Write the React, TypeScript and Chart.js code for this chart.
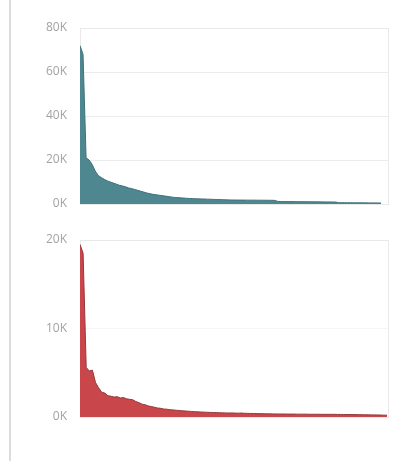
import React, { useEffect, useRef } from "react";
import { Chart, registerables } from "chart.js";

Chart.register(...registerables);

// Top series (thousands), sorted descending long-tail
const topValuesK: number[] = [
  72, 68, 21, 20, 18, 15, 13, 12, 11.2, 10.5,
  10, 9.5, 9, 8.5, 8.2, 7.8, 7.3, 7, 6.6, 6.2,
  5.8, 5.4, 5, 4.7, 4.4, 4.2, 4, 3.8, 3.6, 3.4,
  3.2, 3.0, 2.9, 2.8, 2.7, 2.6, 2.5, 2.45, 2.4, 2.35,
  2.3, 2.25, 2.2, 2.15, 2.1, 2.05, 2.0, 1.95, 1.9, 1.85,
  1.82, 1.8, 1.8, 1.78, 1.78, 1.76, 1.75, 1.75, 1.74, 1.72,
  1.72, 1.7, 1.7, 1.68, 1.65, 1.2, 1.15, 1.12, 1.1, 1.1,
  1.08, 1.06, 1.05, 1.05, 1.04, 1.02, 1.0, 1.0, 0.98, 0.97,
  0.96, 0.95, 0.94, 0.92, 0.9, 0.62, 0.6, 0.6, 0.58, 0.58,
  0.56, 0.55, 0.55, 0.54, 0.52, 0.5, 0.5, 0.48, 0.46, 0.45,
];

// Bottom series (thousands)
const bottomValuesK: number[] = [
  19.5, 18.5, 5.6, 5.2, 5.3, 3.9, 3.3, 2.8, 2.7, 2.4,
  2.35, 2.25, 2.3, 2.15, 2.2, 2.05, 2.0, 1.95, 1.75, 1.62,
  1.45, 1.38, 1.25, 1.18, 1.1, 1.02, 0.98, 0.9, 0.88, 0.82,
  0.8, 0.76, 0.74, 0.7, 0.68, 0.65, 0.63, 0.6, 0.58, 0.56,
  0.55, 0.53, 0.52, 0.5, 0.5, 0.48, 0.47, 0.46, 0.45, 0.46,
  0.44, 0.43, 0.45, 0.42, 0.41, 0.4, 0.4, 0.39, 0.38, 0.37,
  0.36, 0.36, 0.35, 0.35, 0.34, 0.34, 0.34, 0.33, 0.33, 0.33,
  0.32, 0.32, 0.32, 0.32, 0.31, 0.31, 0.31, 0.31, 0.3, 0.3,
  0.3, 0.3, 0.3, 0.29, 0.29, 0.28, 0.28, 0.28, 0.27, 0.27,
  0.26, 0.26, 0.25, 0.25, 0.24, 0.24, 0.23, 0.22, 0.21, 0.2,
];

const topTicks: number[] = [0, 20000, 40000, 60000, 80000];
const bottomTicks: number[] = [0, 10000, 20000];

const boxPlugin = {
  id: "boxPlugin",
  beforeDatasetsDraw(chart: any) {
    const { ctx, chartArea } = chart;
    ctx.save();
    ctx.strokeStyle = "#e9e9e9";
    ctx.lineWidth = 1;
    ctx.strokeRect(
      Math.round(chartArea.left) + 0.5,
      Math.round(chartArea.top) + 0.5,
      Math.round(chartArea.right - chartArea.left),
      Math.round(chartArea.bottom - chartArea.top)
    );
    ctx.restore();
  },
};

function makeConfig(
  values: number[],
  ticks: number[],
  fill: string,
  border: string,
  xMax: number,
  padTop: number,
  padBottom: number,
  gridColor: string
): any {
  const data = values.map((v, i) => ({ x: i, y: v * 1000 }));
  return {
    type: "line",
    data: {
      datasets: [
        {
          data,
          fill: "origin",
          backgroundColor: fill,
          borderColor: border,
          borderWidth: 1,
          pointRadius: 0,
          tension: 0,
        },
      ],
    },
    options: {
      animation: false,
      responsive: false,
      maintainAspectRatio: false,
      layout: { padding: { top: padTop, bottom: padBottom, right: 22, left: 0 } },
      plugins: { legend: { display: false }, tooltip: { enabled: false } },
      scales: {
        x: { type: "linear", display: false, min: 0, max: xMax },
        y: {
          min: 0,
          max: ticks[ticks.length - 1],
          afterFit: (s: any) => {
            s.width = 80;
          },
          afterBuildTicks: (s: any) => {
            s.ticks = ticks.map((v) => ({ value: v }));
          },
          border: { display: false },
          grid: {
            color: gridColor,
            drawTicks: true,
            tickLength: 13,
            tickColor: "rgba(0,0,0,0)",
            lineWidth: 1,
          },
          ticks: {
            padding: 0,
            color: "#a2a2a2",
            font: { family: "'Open Sans', sans-serif", size: 12 },
            callback: (v: any) => `${Number(v) / 1000}K`,
          },
        },
      },
    },
    plugins: [boxPlugin],
  };
}

export default function App() {
  const topRef = useRef<HTMLCanvasElement>(null);
  const botRef = useRef<HTMLCanvasElement>(null);

  useEffect(() => {
    const c1 = new Chart(
      topRef.current!,
      makeConfig(topValuesK, topTicks, "#4f8791", "#3f717a", 101.3, 28, 16, "#ececec")
    );
    const c2 = new Chart(
      botRef.current!,
      makeConfig(bottomValuesK, bottomTicks, "#c9464b", "#93393c", 99.3, 15, 44, "#f5f5f5")
    );
    return () => {
      c1.destroy();
      c2.destroy();
    };
  }, []);

  return (
    <div
      style={{
        position: "fixed",
        left: 0,
        top: 0,
        width: 410,
        height: 461,
        background: "#ffffff",
        overflow: "hidden",
      }}
    >
      <div
        style={{
          position: "absolute",
          left: 9,
          top: 0,
          width: 2,
          height: 461,
          background: "#dcdcdc",
        }}
      />
      <canvas
        ref={topRef}
        width={410}
        height={220}
        style={{ position: "absolute", left: 0, top: 0, width: 410, height: 220 }}
      />
      <canvas
        ref={botRef}
        width={410}
        height={236}
        style={{ position: "absolute", left: 0, top: 225, width: 410, height: 236 }}
      />
    </div>
  );
}
